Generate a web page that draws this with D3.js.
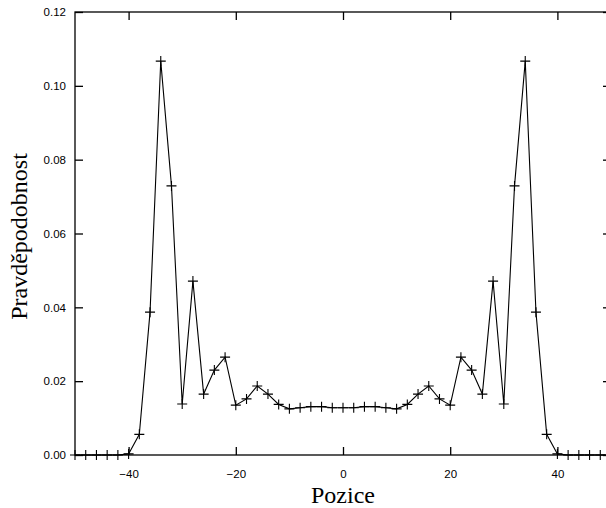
<!DOCTYPE html>
<html>
<head>
<meta charset="utf-8">
<script src="https://cdn.jsdelivr.net/npm/d3@7"></script>
<style>
  body { margin: 0; background: #fff; }
  .tick text { font-family: 'Liberation Sans', Arial, sans-serif; font-size: 11.5px; fill: #000; }
  .title { font-family: 'Liberation Serif', serif; font-size: 24px; fill: #000; }
</style>
</head>
<body>
<svg id="chart" width="606" height="508"></svg>
<script>
// positions on the line, every 2 steps
const positions = d3.range(-50, 51, 2)
// probability at each position
const probabilities = [
  0, 0, 0, 0, 0, 0.0003, 0.0056, 0.0387, 0.1067, 0.0729, 0.0138, 0.0471, 0.0165,
  0.0230, 0.0265, 0.0135, 0.0152, 0.0187, 0.0165, 0.0137, 0.0125, 0.0128, 0.0131,
  0.0131, 0.0128, 0.0128,
  0.0128, 0.0131, 0.0131, 0.0128, 0.0125, 0.0137, 0.0165, 0.0187, 0.0152, 0.0135,
  0.0265, 0.0230, 0.0165, 0.0471, 0.0138, 0.0729, 0.1067, 0.0387, 0.0056, 0.0003,
  0, 0, 0, 0, 0
]
const xTicks = [-40, -20, 0, 20, 40]
const yTicks = [0, 0.02, 0.04, 0.06, 0.08, 0.10, 0.12]

const data = positions.map((p, i) => [p, probabilities[i]])

const margin = { top: 12, left: 75, bottom: 53, right: -5 }
const svg = d3.select('#chart')
const width = +svg.attr('width') - margin.left - margin.right
const height = +svg.attr('height') - margin.top - margin.bottom

const xScale = d3.scaleLinear().domain([-50, 50]).range([0, width])
const yScale = d3.scaleLinear().domain([0, 0.12]).range([height, 0])

const g = svg.append('g').attr('transform', `translate(${margin.left},${margin.top})`)

// frame
g.append('rect').attr('width', width).attr('height', height)
  .attr('fill', 'none').attr('stroke', '#000').attr('stroke-width', 1.3)

const tickLen = 8
g.append('g').attr('transform', `translate(0,${height})`)
  .call(d3.axisBottom(xScale).tickValues(xTicks).tickSizeInner(-tickLen).tickSizeOuter(0).tickPadding(15).tickFormat(d3.format('d')))
  .call(a => a.select('.domain').remove())
g.append('g')
  .call(d3.axisTop(xScale).tickValues(xTicks).tickSizeInner(-tickLen).tickSizeOuter(0).tickFormat(''))
  .call(a => a.select('.domain').remove())
g.append('g')
  .call(d3.axisLeft(yScale).tickValues(yTicks).tickSizeInner(-tickLen).tickSizeOuter(0).tickPadding(9).tickFormat(d3.format('.2f')))
  .call(a => a.select('.domain').remove())
g.append('g').attr('transform', `translate(${width},0)`)
  .call(d3.axisRight(yScale).tickValues(yTicks).tickSizeInner(-tickLen).tickSizeOuter(0).tickFormat(''))
  .call(a => a.select('.domain').remove())
g.selectAll('.tick line').attr('stroke', '#000').attr('stroke-width', 1.3)

const line = d3.line().x(d => xScale(d[0])).y(d => yScale(d[1]))
g.append('path').datum(data).attr('d', line)
  .attr('fill', 'none').attr('stroke', '#000').attr('stroke-width', 1.1)

g.selectAll('.pt').data(data).enter().append('path')
  .attr('transform', d => `translate(${xScale(d[0])},${yScale(d[1])})`)
  .attr('d', 'M-5,0H5M0,-5V5')
  .attr('stroke', '#000').attr('stroke-width', 1.1)

svg.append('text').attr('class', 'title')
  .attr('x', margin.left + xScale(0)).attr('y', 503)
  .attr('text-anchor', 'middle').text('Pozice')
svg.append('text').attr('class', 'title')
  .attr('transform', `translate(27,${margin.top + height / 2 + 3}) rotate(-90)`)
  .attr('text-anchor', 'middle').text('Pravděpodobnost')
</script>
</body>
</html>
